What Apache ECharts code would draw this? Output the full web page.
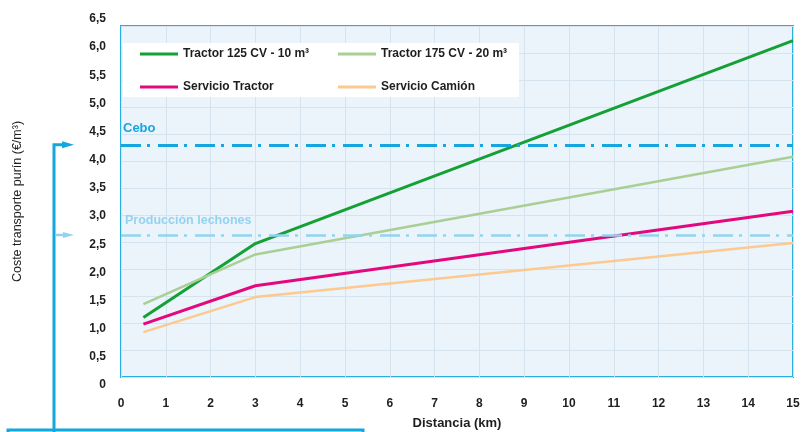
<!DOCTYPE html>
<html>
<head>
<meta charset="utf-8">
<script src="https://cdn.jsdelivr.net/npm/echarts@6/dist/echarts.min.js"></script>
<style>
  html, body { margin: 0; padding: 0; background: #ffffff; }
  #chart { width: 802px; height: 432px; }
</style>
</head>
<body>
<div id="chart"></div>
<script>
// Transport cost of slurry (€/m³) against distance (km)
const seriesNames = ['Tractor 125 CV - 10 m³', 'Tractor 175 CV - 20 m³', 'Servicio Tractor', 'Servicio Camión'];
const tractor125 = [[0.5, 1.10], [3, 2.47], [15, 6.23]];
const tractor175 = [[0.5, 1.35], [3, 2.27], [15, 4.08]];
const servicioTractor = [[0.5, 0.98], [3, 1.69], [15, 3.07]];
const servicioCamion = [[0.5, 0.83], [3, 1.48], [15, 2.48]];

// Reference thresholds
const umbralCebo = 4.3;
const umbralLechones = 2.63;

const seriesColors = ['#15a035', '#a9cf94', '#e4087e', '#fcc98f'];
const seriesWidths = [3, 2.5, 3, 2.5];

const FONT = '"Liberation Sans", Arial, sans-serif';
const CEBO_COLOR = '#15a6df';
const LECHONES_COLOR = '#93d3f0';
const TEXT_COLOR = '#1e1e1e';

const chart = echarts.init(document.getElementById('chart'), null, { renderer: 'canvas' });

function fmtY(v) {
  return v === 0 ? '0' : v.toFixed(1).replace('.', ',');
}

const datasets = [tractor125, tractor175, servicioTractor, servicioCamion];

const series = datasets.map((d, i) => ({
  name: seriesNames[i],
  type: 'line',
  data: d,
  symbol: 'none',
  z: 3,
  lineStyle: { color: seriesColors[i], width: seriesWidths[i] },
  itemStyle: { color: seriesColors[i] }
}));

// Horizontal reference lines carried by an empty helper series
series.push({
  name: 'umbrales',
  type: 'line',
  data: [],
  silent: true,
  z: 4,
  markLine: {
    silent: true,
    symbol: 'none',
    animation: false,
    data: [
      {
        yAxis: umbralCebo,
        lineStyle: { color: CEBO_COLOR, width: 3, type: [20, 6, 3, 8] },
        label: {
          formatter: 'Cebo', position: 'insideStartTop', distance: [2, 10],
          color: CEBO_COLOR, fontWeight: 'bold', fontSize: 13, fontFamily: FONT
        }
      },
      {
        yAxis: umbralLechones,
        lineStyle: { color: LECHONES_COLOR, width: 2.5, type: [20, 6, 3, 8] },
        label: {
          formatter: 'Producción lechones', position: 'insideStartTop', distance: [4, 8],
          color: LECHONES_COLOR, fontWeight: 'bold', fontSize: 12.5, fontFamily: FONT
        }
      }
    ]
  }
});

const legendCommon = {
  orient: 'vertical',
  top: 42,
  itemWidth: 38,
  itemHeight: 3,
  itemGap: 19,
  icon: 'rect',
  selectedMode: false,
  z: 5,
  textStyle: { color: TEXT_COLOR, fontWeight: 'bold', fontSize: 12, fontFamily: FONT, lineHeight: 14 }
};

chart.setOption({
  animation: false,
  backgroundColor: '#ffffff',
  grid: [
    {
      left: 121, right: 9, top: 26, bottom: 55,
      outerBoundsMode: 'none',
      containLabel: false,
      show: true,
      backgroundColor: '#ebf4fb',
      borderColor: '#29aedf',
      borderWidth: 2
    },
    // frame for the printed cost scale, set slightly taller than the plot box
    { left: 121, right: 9, top: 19, bottom: 47, outerBoundsMode: 'none', containLabel: false, show: false }
  ],
  legend: [
    Object.assign({}, legendCommon, { left: 135, data: [seriesNames[0], seriesNames[2]] }),
    Object.assign({}, legendCommon, { left: 333, data: [seriesNames[1], seriesNames[3]] })
  ],
  xAxis: [
    {
      type: 'value', gridIndex: 0,
      min: 0, max: 15, interval: 1,
      name: 'Distancia (km)',
      nameLocation: 'middle',
      nameGap: 40,
      nameTextStyle: { color: TEXT_COLOR, fontWeight: 'bold', fontSize: 13, fontFamily: FONT },
      axisLine: { show: false },
      axisTick: { show: false },
      axisLabel: { margin: 21, color: TEXT_COLOR, fontWeight: 'bold', fontSize: 12, fontFamily: FONT },
      splitLine: { show: true, lineStyle: { color: '#d5e3ee', width: 1 } }
    },
    { type: 'value', gridIndex: 1, min: 0, max: 15, show: false }
  ],
  yAxis: [
    {
      type: 'value', gridIndex: 0,
      min: 0, max: 6.5, interval: 0.5,
      name: 'Coste transporte purín (€/m³)',
      nameLocation: 'middle',
      nameGap: 97,
      nameRotate: 90,
      nameTextStyle: { color: TEXT_COLOR, fontSize: 12.5, fontFamily: FONT },
      axisLine: { show: false },
      axisTick: { show: false },
      axisLabel: { show: false },
      splitLine: { show: true, lineStyle: { color: '#d5e3ee', width: 1 } }
    },
    {
      type: 'value', gridIndex: 1,
      min: 0, max: 6.5, interval: 0.5,
      axisLine: { show: false },
      axisTick: { show: false },
      splitLine: { show: false },
      axisLabel: { margin: 15, color: TEXT_COLOR, fontWeight: 'bold', fontSize: 12, fontFamily: FONT, formatter: fmtY }
    }
  ],
  series: series
});

// Bracket on the left pointing at both thresholds
const yCebo = chart.convertToPixel({ gridIndex: 0 }, [0, umbralCebo])[1];
const yLech = chart.convertToPixel({ gridIndex: 0 }, [0, umbralLechones])[1];
const bx = 54;
chart.setOption({
  graphic: [
    {
      type: 'rect', z: 1, silent: true,
      shape: { x: 123, y: 43, width: 396, height: 54 },
      style: { fill: '#ffffff' }
    },
    {
      type: 'polyline', silent: true,
      shape: { points: [[bx, 440], [bx, yCebo], [63, yCebo]] },
      style: { stroke: CEBO_COLOR, lineWidth: 3, fill: null }
    },
    {
      type: 'polygon', silent: true,
      shape: { points: [[62, yCebo - 3.5], [74, yCebo], [62, yCebo + 3.5]] },
      style: { fill: CEBO_COLOR }
    },
    {
      type: 'line', silent: true,
      shape: { x1: bx + 1, y1: yLech, x2: 64, y2: yLech },
      style: { stroke: LECHONES_COLOR, lineWidth: 2.5 }
    },
    {
      type: 'polygon', silent: true,
      shape: { points: [[63, yLech - 3], [74, yLech], [63, yLech + 3]] },
      style: { fill: LECHONES_COLOR }
    },
    {
      type: 'rect', silent: true,
      shape: { x: 8, y: 430, width: 355, height: 12 },
      style: { stroke: CEBO_COLOR, lineWidth: 3, fill: null }
    }
  ]
});
</script>
</body>
</html>
